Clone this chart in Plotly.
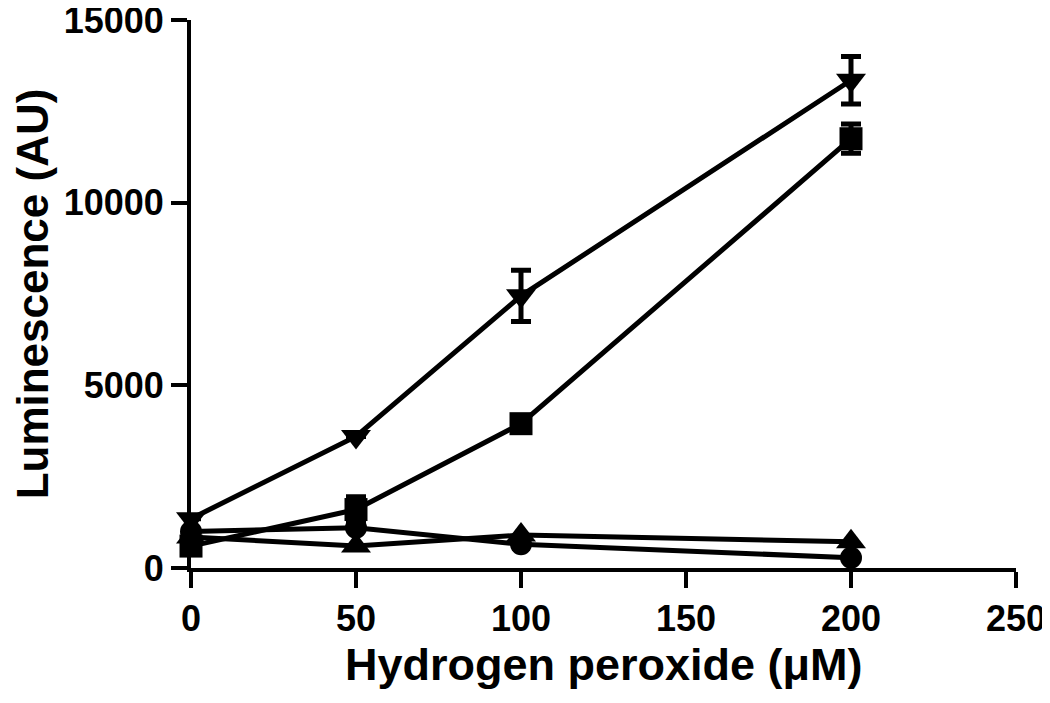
import plotly.graph_objects as go

x_vals = [0, 50, 100, 200]

tri_down = [1350, 3600, 7450, 13350]
tri_down_err = [0, 0, 700, 650]

squares = [600, 1600, 3950, 11750]
squares_err = [0, 350, 0, 400]

triangles_up = [850, 600, 900, 720]
circles = [1000, 1100, 650, 280]

x_ticks = [0, 50, 100, 150, 200, 250]
y_ticks = [0, 5000, 10000, 15000]

x_title = "Hydrogen peroxide (μM)"
y_title = "Luminescence (AU)"

font_family = "Liberation Sans, Arial, sans-serif"
LW = 5
AW = 4

fig = go.Figure()

def add(y, symbol, size, err=None):
    kw = {}
    if err is not None:
        kw["error_y"] = dict(type="data", array=err, visible=True,
                             color="black", thickness=LW, width=10)
    fig.add_trace(go.Scatter(
        x=x_vals, y=y, mode="lines+markers",
        line=dict(color="black", width=LW),
        marker=dict(symbol=symbol, size=size, color="black"),
        cliponaxis=False, showlegend=False, **kw))

add(circles, "circle", 22)
add(triangles_up, "triangle-up", 26)
add(squares, "square", 23, squares_err)
add(tri_down, "triangle-down", 26, tri_down_err)

axis_common = dict(
    showline=True, linecolor="black", linewidth=AW,
    ticks="outside", ticklen=16, tickwidth=AW, tickcolor="black",
    showgrid=False, zeroline=False, ticklabeloverflow="allow", automargin=False,
    tickfont=dict(family=font_family, size=36, color="black", weight="bold"),
)

fig.update_layout(
    width=1050, height=703,
    margin=dict(l=183, r=42, t=12, b=143),
    paper_bgcolor="white", plot_bgcolor="white",
    xaxis=dict(range=[0, 250], tickvals=x_ticks, ticktext=[str(v) for v in x_ticks],
               **axis_common),
    yaxis=dict(range=[0, 15000], tickvals=y_ticks, ticktext=[str(v) for v in y_ticks],
               title=dict(text=y_title, standoff=14,
                          font=dict(family=font_family, size=44, color="black", weight="bold")),
               **axis_common),
    annotations=[dict(
        text=x_title, xref="paper", yref="paper", x=0.5, y=-0.176,
        xanchor="center", yanchor="middle", showarrow=False,
        font=dict(family=font_family, size=45, color="black", weight="bold"))],
)

fig.write_html("out.html")
